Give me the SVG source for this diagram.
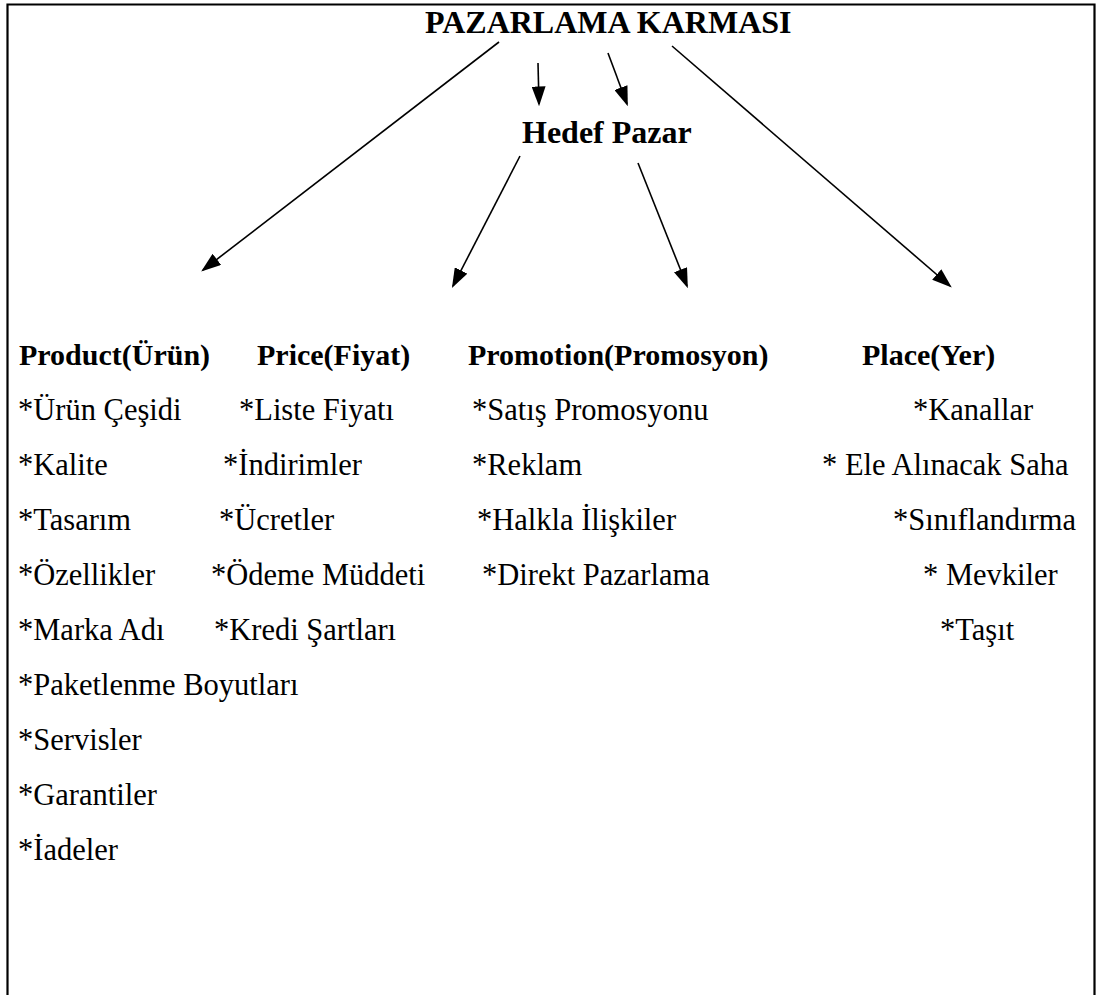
<svg xmlns="http://www.w3.org/2000/svg" width="1098" height="995" viewBox="0 0 1098 995">
<style>
text{font-family:"Liberation Serif","Times New Roman",serif;fill:#000}
.b{font-weight:bold;font-size:32px}
.h{font-weight:bold;font-size:30px}
.r{font-size:30.5px}
.c{stroke:#000;stroke-width:1.6;fill:none;marker-end:url(#ah)}
</style>
<defs>
<marker id="ah" markerUnits="userSpaceOnUse" markerWidth="20" markerHeight="14" refX="15" refY="6" orient="auto" viewBox="0 0 17 12">
<path d="M0,0 L17,6 L0,12 Z" fill="#000"/>
</marker>
</defs>
<rect width="1098" height="995" fill="#fff"/>
<path d="M7.5,995 V4.5 H1094.5 V995" fill="none" stroke="#000" stroke-width="2.2"/>
<g id="connectors">
<line class="c" x1="499" y1="42" x2="203" y2="270"/>
<line class="c" x1="538" y1="63" x2="539" y2="104"/>
<line class="c" x1="608" y1="53" x2="627" y2="104"/>
<line class="c" x1="672" y1="46" x2="950" y2="286"/>
<line class="c" x1="520" y1="156" x2="453" y2="286"/>
<line class="c" x1="638" y1="163" x2="687" y2="286"/>
</g>
<g id="title"><text class="b" x="425" y="33">PAZARLAMA KARMASI</text></g>
<g id="hedef"><text class="b" x="522" y="143">Hedef Pazar</text></g>
<g id="product">
<text class="h" x="19" y="365">Product(Ürün)</text>
<text class="r" x="18" y="420">*Ürün Çeşidi</text>
<text class="r" x="18" y="475">*Kalite</text>
<text class="r" x="18" y="530">*Tasarım</text>
<text class="r" x="18" y="585">*Özellikler</text>
<text class="r" x="18" y="640">*Marka Adı</text>
<text class="r" x="18" y="695">*Paketlenme Boyutları</text>
<text class="r" x="18" y="750">*Servisler</text>
<text class="r" x="18" y="805">*Garantiler</text>
<text class="r" x="18" y="860">*İadeler</text>
</g>
<g id="price">
<text class="h" x="257" y="365">Price(Fiyat)</text>
<text class="r" x="239" y="420">*Liste Fiyatı</text>
<text class="r" x="223" y="475">*İndirimler</text>
<text class="r" x="219" y="530">*Ücretler</text>
<text class="r" x="211" y="585">*Ödeme Müddeti</text>
<text class="r" x="214" y="640">*Kredi Şartları</text>
</g>
<g id="promotion">
<text class="h" x="468" y="365">Promotion(Promosyon)</text>
<text class="r" x="472" y="420">*Satış Promosyonu</text>
<text class="r" x="472" y="475">*Reklam</text>
<text class="r" x="477" y="530">*Halkla İlişkiler</text>
<text class="r" x="482" y="585">*Direkt Pazarlama</text>
</g>
<g id="place">
<text class="h" x="862" y="365">Place(Yer)</text>
<text class="r" x="913" y="420">*Kanallar</text>
<text class="r" x="822" y="475">* Ele Alınacak Saha</text>
<text class="r" x="893" y="530">*Sınıflandırma</text>
<text class="r" x="923" y="585">* Mevkiler</text>
<text class="r" x="940" y="640">*Taşıt</text>
</g>
</svg>
